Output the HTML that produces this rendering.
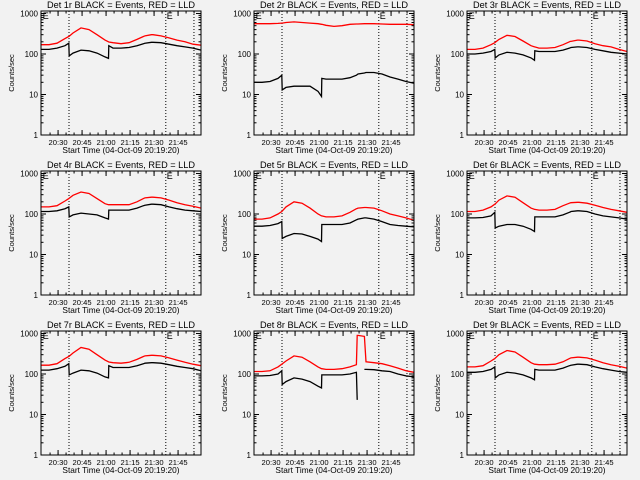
<!DOCTYPE html>
<html><head><meta charset="utf-8">
<style>
html,body{margin:0;padding:0;background:#f2f2f2;}
svg{display:block;font-family:"Liberation Sans",sans-serif;}
</style></head>
<body>
<svg id="c" width="640" height="480" viewBox="0 0 640 480"></svg>
<script>
// shared sample times (minutes after 20:19:20)
const times = [0,5,10,15,17.4,17.6,20,25,30,35,40,42.2,42.4,45,50,55,60,64,64.5,65,69,70,75,80,85,90,95,100];
const panelTitles = ["Det 1r","Det 2r","Det 3r","Det 4r","Det 5r","Det 6r","Det 7r","Det 8r","Det 9r"];
const red1 = [170,170,185,240,270,275,330,440,400,300,220,200,198,190,180,190,230,270,275,280,300,300,280,250,220,200,175,165];
const blk1 = [130,130,140,160,185,90,105,125,120,105,85,78,160,140,140,145,160,180,182,185,195,195,190,175,160,150,140,125];
const red2 = [560,560,560,570,580,580,600,620,600,580,560,540,540,510,480,500,540,550,550,550,560,560,560,550,540,540,540,530];
const blk2 = [20,20,21,25,30,13,15,16,16,16,12,9,25,24,24,24,26,30,31,32,34,35,35,32,27,24,21,19];
const red3 = [130,130,140,170,190,195,230,290,270,210,160,150,150,140,140,145,170,200,205,205,220,220,210,180,160,150,130,115];
const blk3 = [100,100,105,115,130,80,95,110,105,95,80,70,120,115,115,115,125,140,142,145,150,150,145,130,120,110,105,100];
const red4 = [150,150,160,210,240,245,290,350,320,240,180,170,170,170,170,170,200,240,245,250,260,260,250,220,190,170,155,140];
const blk4 = [115,115,120,135,150,85,95,105,100,95,80,75,125,125,125,125,140,160,162,165,175,175,170,150,135,125,120,115];
const red5 = [75,75,80,100,115,118,150,200,185,140,100,90,90,85,85,90,110,135,137,140,145,145,140,120,100,90,80,70];
const blk5 = [50,50,52,58,65,25,28,33,32,28,24,21,55,55,55,55,60,72,73,75,80,80,75,65,55,52,50,48];
const red6 = [115,115,125,150,175,178,220,280,260,190,140,130,130,125,125,130,160,185,188,190,195,195,185,165,145,130,120,110];
const blk6 = [80,80,82,90,110,45,50,55,55,50,42,37,85,85,85,85,95,110,112,115,120,120,115,100,90,85,80,75];
const red7 = [165,165,180,240,270,275,330,450,410,300,220,200,198,190,185,195,230,270,275,280,290,290,280,250,220,195,175,160];
const blk7 = [125,125,135,155,180,95,105,125,120,105,85,80,160,145,145,145,160,180,182,185,190,190,185,170,155,145,135,120];
const red8 = [115,115,120,150,175,178,210,280,260,200,150,135,135,130,130,135,150,170,900,900,850,200,190,180,160,140,120,110];
const blk8 = [90,90,92,100,120,55,65,80,75,65,50,45,95,95,95,95,100,110,23,null,130,130,128,120,115,100,90,85];
const red9 = [150,150,160,210,240,245,300,380,350,260,190,175,175,170,170,175,200,240,245,250,260,260,250,220,190,170,155,140];
const blk9 = [110,110,115,130,150,80,95,110,105,95,80,72,130,125,125,125,140,160,162,165,175,175,170,150,135,125,115,110];
const redSeries = [red1,red2,red3,red4,red5,red6,red7,red8,red9];
const blkSeries = [blk1,blk2,blk3,blk4,blk5,blk6,blk7,blk8,blk9];
const xTickMin = [10.667,25.667,40.667,55.667,70.667,85.667];
const xTickLabels = ["20:30","20:45","21:00","21:15","21:30","21:45"];
const yTickVals = [1,10,100,1000];
const yTickLabels = ["1","10","100","1000"];
const dottedMin = [17.5,78,95.6];
const eMarkMin = [0.5,78];

const NS="http://www.w3.org/2000/svg";
const svg=document.getElementById('c');
function mk(tag,attrs,parent){const e=document.createElementNS(NS,tag);for(const k in attrs)e.setAttribute(k,attrs[k]);(parent||svg).appendChild(e);return e;}
const W=160,H=124,DEC=40.5;
for(let p=0;p<9;p++){
  const c=p%3,r=Math.floor(p/3);
  const L=41+213*c,T=11+160*r,B=T+H,R=L+W;
  const xs=t=>L+t*1.6;
  const ys=v=>B-Math.log10(v)*DEC;
  const g=mk('g',{});
  
  
  const ttl=mk('text',{x:L+W/2,y:T-3,'text-anchor':'middle','font-size':'9.2',fill:'#000'},g);
  ttl.textContent=panelTitles[p]+" BLACK = Events, RED = LLD";
  
  
  dottedMin.forEach(m=>{const d=mk('line',{x1:xs(m),x2:xs(m),y1:T,y2:B,stroke:'#000','stroke-width':1,'stroke-dasharray':'1,2'},g);
    
    });
  eMarkMin.forEach(m=>{const e=mk('text',{x:xs(m)+1,y:T+8,'font-size':'9',fill:'#000'},g);e.textContent="E";
    
    });
  [[redSeries[p],'#ff0000','red-lld-series'],[blkSeries[p],'#000','black-events-series']].forEach(([vals,col,nm])=>{
    let d='',pen=false;
    vals.forEach((v,i)=>{if(v===null){pen=false;return;}d+=(pen?'L':'M')+xs(times[i]).toFixed(1)+' '+ys(v).toFixed(1)+' ';pen=true;});
    const pa=mk('path',{d:d,fill:'none',stroke:col,'stroke-width':1.3},g);
    
    
  });
  const bx=mk('rect',{x:L,y:T,width:W,height:H,fill:'none',stroke:'#000','stroke-width':1},g);
  
  
  yTickVals.forEach((v,i)=>{
    const y=ys(v);
    mk('line',{x1:L,x2:L+5,y1:y,y2:y,stroke:'#000'},g);
    mk('line',{x1:R,x2:R-5,y1:y,y2:y,stroke:'#000'},g);
    const t=mk('text',{x:L-3,y:y+3,'text-anchor':'end','font-size':'8',fill:'#000'},g);
    t.textContent=yTickLabels[i];
    
    
    if(v<1000)for(let k=2;k<10;k++){const yy=ys(v*k);
      mk('line',{x1:L,x2:L+2.5,y1:yy,y2:yy,stroke:'#000'},g);
      mk('line',{x1:R,x2:R-2.5,y1:yy,y2:yy,stroke:'#000'},g);}
  });
  xTickMin.forEach((m,i)=>{
    const x=xs(m);
    mk('line',{x1:x,x2:x,y1:B,y2:B-5,stroke:'#000'},g);
    mk('line',{x1:x,x2:x,y1:T,y2:T+5,stroke:'#000'},g);
    const t=mk('text',{x:x,y:B+10,'text-anchor':'middle','font-size':'7.6',fill:'#000'},g);
    t.textContent=xTickLabels[i];
    
    
  });
  for(let m=10.667-5;m<100;m+=5){const x=xs(m);
    mk('line',{x1:x,x2:x,y1:B,y2:B-2.5,stroke:'#000'},g);
    mk('line',{x1:x,x2:x,y1:T,y2:T+2.5,stroke:'#000'},g);}
  const xl=mk('text',{x:L+W/2,y:B+18,'text-anchor':'middle','font-size':'8.3',fill:'#000'},g);
  xl.textContent="Start Time (04-Oct-09 20:19:20)";
  
  
  const yl=mk('text',{x:0,y:0,'text-anchor':'middle','font-size':'7.5',fill:'#000',transform:`translate(${L-27},${T+H/2}) rotate(-90)`},g);
  yl.textContent="Counts/sec";
  
  
}
</script>
</body></html>
